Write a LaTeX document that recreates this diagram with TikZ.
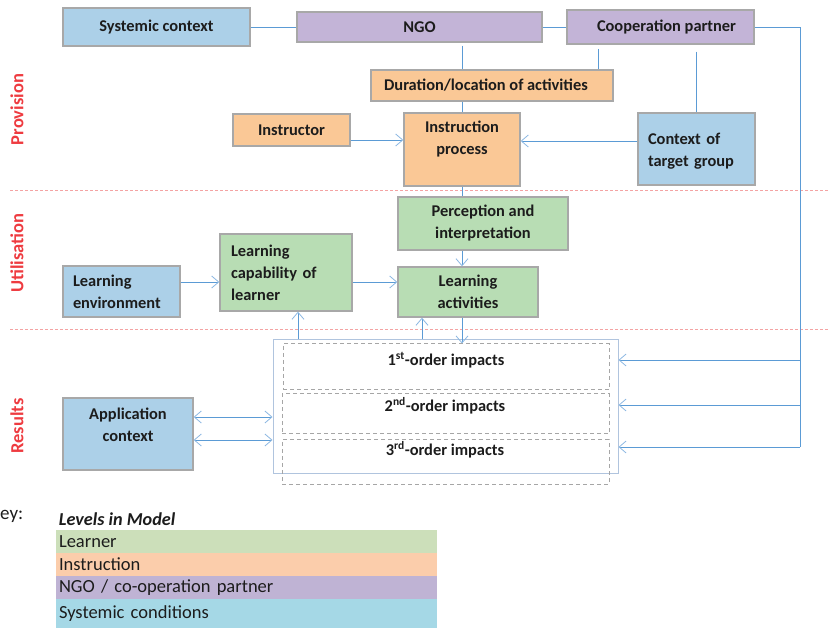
\documentclass[tikz,border=0pt]{standalone}
\usepackage{fontspec}
\setmainfont{Carlito}
\usetikzlibrary{arrows.meta,calc}
\definecolor{bluebox}{HTML}{ACD0E8}
\definecolor{purplebox}{HTML}{C3B4D7}
\definecolor{orangebox}{HTML}{FAC896}
\definecolor{greenbox}{HTML}{B8DDB4}
\definecolor{boxedge}{HTML}{A8A8A8}
\definecolor{txt}{HTML}{1C1C1C}
\definecolor{conn}{HTML}{5B9BD5}
\definecolor{tipc}{HTML}{8DB8E2}
\definecolor{redlab}{HTML}{EE3B40}
\definecolor{reddash}{HTML}{F4A3A3}
\definecolor{outeredge}{HTML}{B0C4DE}
\definecolor{dashgray}{HTML}{A6A6A6}
\definecolor{keygreen}{HTML}{CCDFBA}
\definecolor{keyorange}{HTML}{FBCDAB}
\definecolor{keypurple}{HTML}{BFB3D4}
\definecolor{keyblue}{HTML}{A5D8E6}
\tikzset{
  box/.style={draw=boxedge, line width=1.4pt, inner sep=0pt, text=txt,
    font=\bfseries\fontsize{16.4}{22}\selectfont, align=center},
  sz/.style 2 args={minimum width=#1pt, minimum height=#2pt},
  conline/.style={draw=conn, line width=0.9pt},
  arr/.style={conline, -{Straight Barb[length=7pt,width=12pt,color=tipc,line width=0.8pt]}},
  dbl/.style={conline, {Straight Barb[length=7pt,width=12pt,color=tipc,line width=0.8pt]}-{Straight Barb[length=7pt,width=12pt,color=tipc,line width=0.8pt]}},
  lvl/.style={rotate=90, text=redlab, font=\bfseries\fontsize{18.5}{22}\selectfont, inner sep=0pt},
  sepline/.style={draw=reddash, line width=1pt, dash pattern=on 3pt off 2pt},
  dashbox/.style={draw=dashgray, line width=1pt, dash pattern=on 4pt off 3pt, inner sep=0pt},
  imptext/.style={text=txt, font=\bfseries\fontsize{16.4}{22}\selectfont, inner sep=0pt},
  keyrow/.style={minimum width=381pt, minimum height=23pt, text width=375pt, inner xsep=3pt,
    inner ysep=0pt, align=left, font=\fontsize{18.5}{22}\selectfont, text=txt}
}
\begin{document}
\begin{tikzpicture}[x=1pt,y=-1pt]
\useasboundingbox (0,0) rectangle (828,628);

% separators
\coordinate (s1a) at (10,191); \coordinate (s1b) at (828,191);
\coordinate (s2a) at (10,330); \coordinate (s2b) at (828,330);
\draw[sepline] (s1a) -- (s1b);
\draw[sepline] (s2a) -- (s2b);

% level labels
\node[lvl] (lp) at (17,109.5) {Provision};
\node[lvl] (lu) at (17,253) {Utilisation};
\node[lvl] (lr) at (17,426) {Results};

% boxes
\node[box, fill=bluebox, sz={187}{38}] (sys) at (156.5,27) {Systemic context};
\node[box, fill=purplebox, sz={245}{30}] (ngo) at (419.5,27) {NGO};
\node[box, fill=purplebox, sz={187}{34}] (coop) at (660.5,27) {\hspace*{12pt}Cooperation partner};
\node[box, fill=orangebox, sz={242}{31}] (dur) at (492,85.5) {Duration/location of activities\hspace*{12pt}};
\node[box, fill=orangebox, sz={117}{32}] (inst) at (291.5,130) {Instructor};
\node[box, fill=orangebox, sz={116}{73}, text depth=23pt] (ip) at (462,149.5) {Instruction\\process};
\node[box, fill=bluebox, sz={117}{72}, align=left, text width=97pt, inner xsep=10pt, text depth=21pt] (ctx) at (696.5,149) {Context of\\target group};
\node[box, fill=greenbox, sz={170}{53}] (perc) at (483,223.5) {Perception and\\interpretation};
\node[box, fill=greenbox, sz={140}{50}] (act) at (468,292) {Learning\\activities};
\node[box, fill=greenbox, sz={132}{77}, align=left, text width=110pt, inner xsep=11pt] (cap) at (286,272.5) {Learning\\capability of\\learner};
\node[box, fill=bluebox, sz={117}{51}, align=left, text width=97pt, inner xsep=10pt] (env) at (121.5,291.5) {Learning\\environment};
\node[box, fill=bluebox, sz={130}{72}, text depth=18pt] (app) at (128,434) {Application\\context};

% impacts
\node[draw=outeredge, line width=1pt, sz={345}{133}, inner sep=0pt] (outer) at (445.5,406.5) {};
\node[dashbox, sz={326}{46}] (o1) at (446,367) {};
\node[dashbox, sz={327}{40}] (o2) at (445.5,414) {};
\node[dashbox, sz={327}{44}] (o3) at (445.5,462) {};
\node[imptext] (t1) at (446,360) {1\textsuperscript{st}-order impacts};
\node[imptext] (t2) at (445,406) {2\textsuperscript{nd}-order impacts};
\node[imptext] (t3) at (445,450) {3\textsuperscript{rd}-order impacts};

% connectors
\draw[conline] (sys.east) -- (ngo.west);
\draw[conline] (ngo.east) -- (coop.west);
\coordinate (c1) at (800,360);
\coordinate (c2) at (800,405);
\coordinate (c3) at (800,447);
\draw[conline] (coop.east) -| (c3);
\draw[arr] (c1) -- (c1 -| outer.east);
\draw[arr] (c2) -- (c2 -| outer.east);
\draw[arr] (c3) -- (c3 -| outer.east);
\draw[conline, shorten <=3pt] (ngo.south -| ip.north) -- (dur.north -| ip.north);
\coordinate (k1) at (598,44);
\draw[conline, shorten <=5pt] (k1) -- (k1 |- dur.north);
\draw[conline, shorten <=7pt] (coop.south -| ctx.north) -- (ctx.north);
\draw[conline] (dur.south -| ip.north) -- (ip.north);
\coordinate (yi) at (0,140);
\draw[arr] (inst.east |- yi) -- (ip.west |- yi);
\coordinate (yc) at (0,141);
\draw[arr] (ctx.west |- yc) -- (ip.east |- yc);
\draw[conline] (ip.south) -- (ip.south |- perc.north);
\draw[arr] (perc.south -| ip.south) -- (act.north -| ip.south);
\coordinate (ye) at (0,282);
\draw[arr] (env.east |- ye) -- (cap.west |- ye);
\draw[arr] (cap.east |- ye) -- (act.west |- ye);
\coordinate (xa) at (298,0);
\draw[arr] (outer.north -| xa) -- (cap.south -| xa);
\coordinate (xb) at (422,0);
\draw[arr] (outer.north -| xb) -- (act.south -| xb);
\draw[arr] (act.south -| ip.south) -- (o1.north -| ip.south);
\coordinate (ya) at (0,417);
\coordinate (yb) at (0,440);
\draw[dbl] (app.east |- ya) -- (outer.west |- ya);
\draw[dbl] (app.east |- yb) -- (outer.west |- yb);

% key
\node[anchor=west, font=\fontsize{19}{22}\selectfont, text=txt, inner sep=0pt] (key) at (0,516) {ey:};
\node[anchor=west, font=\bfseries\itshape\fontsize{18.2}{22}\selectfont, text=txt, inner sep=0pt] (lvm) at (58.7,519) {Levels in Model};
\node[keyrow, fill=keygreen] (kl) at (246.5,541.5) {Learner};
\node[keyrow, fill=keyorange] (ki) at (246.5,564.5) {Instruction};
\node[keyrow, fill=keypurple] (kn) at (246.5,587.5) {NGO / co-operation partner};
\node[keyrow, fill=keyblue, minimum height=29pt] (ks) at (246.5,613.5) {Systemic conditions};
\end{tikzpicture}
\end{document}
